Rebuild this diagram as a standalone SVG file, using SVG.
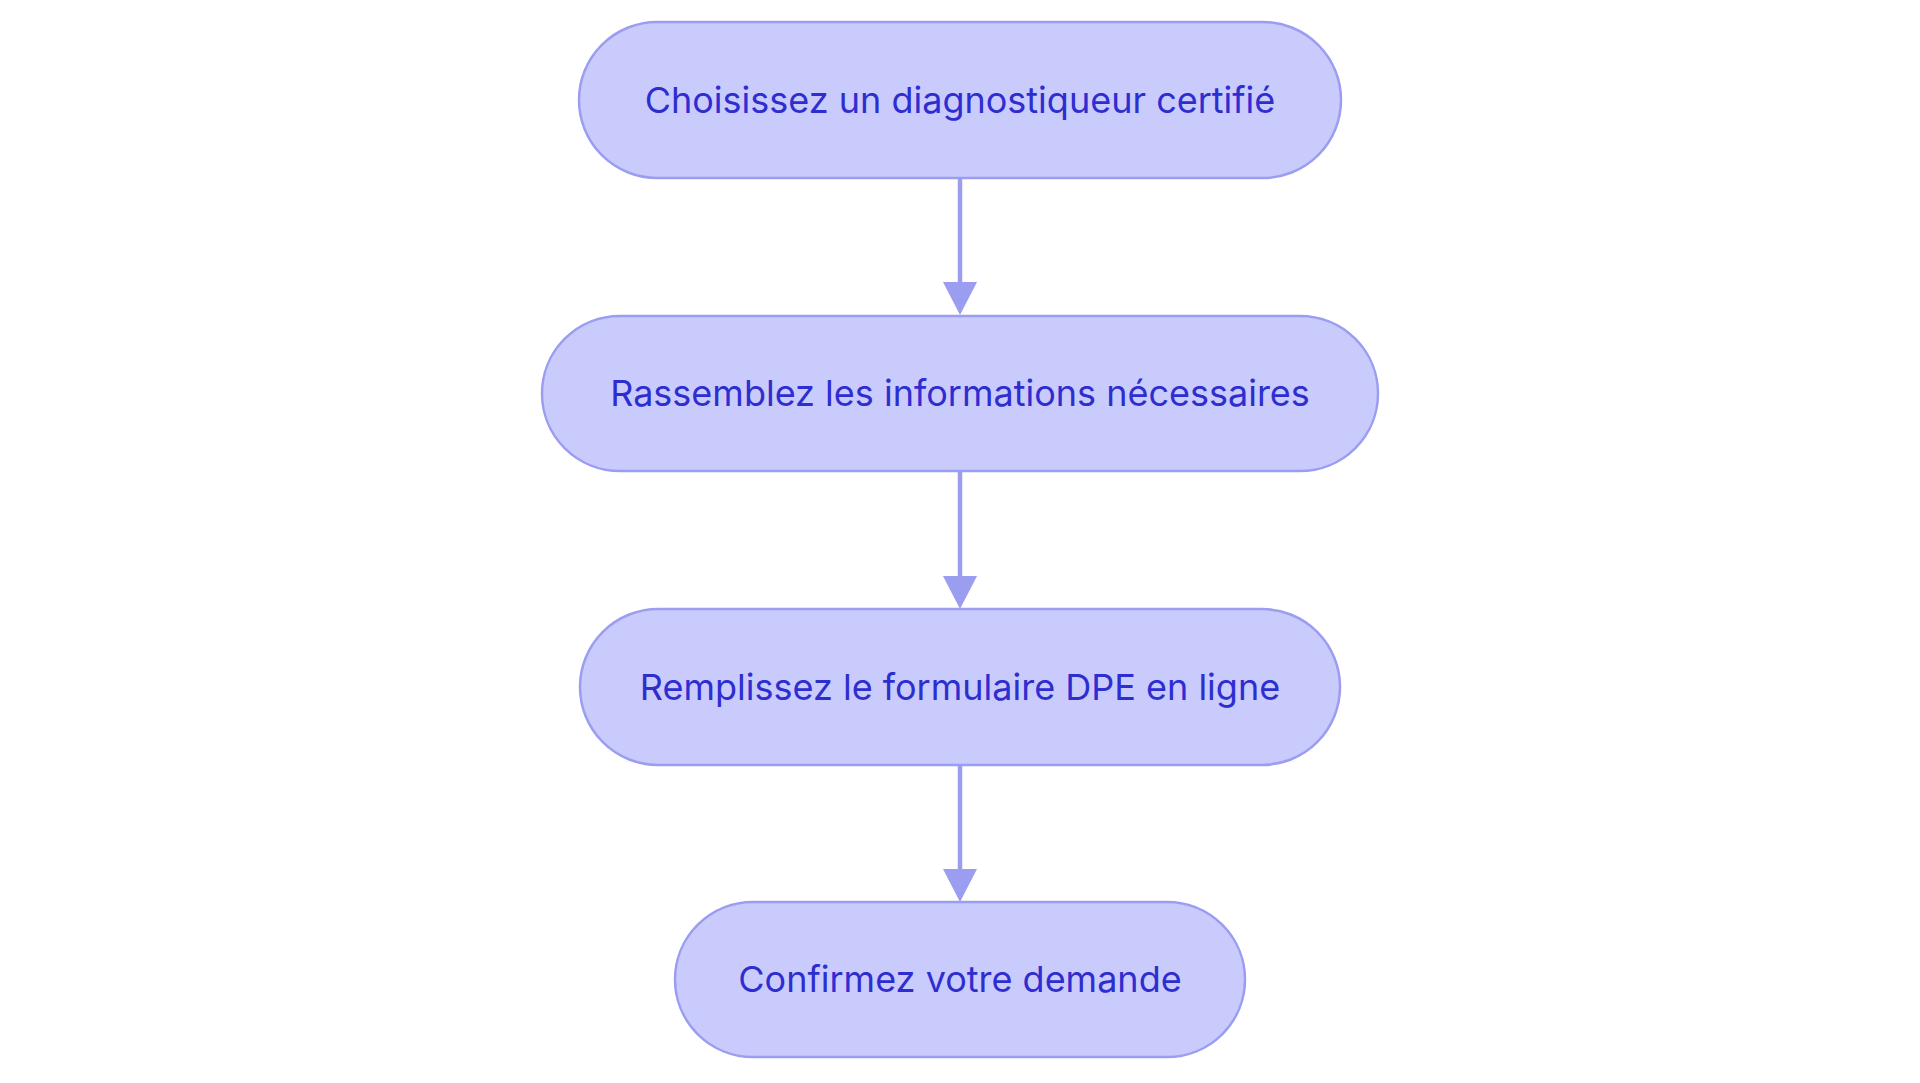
<svg xmlns="http://www.w3.org/2000/svg" width="1920" height="1083" viewBox="0 0 1920 1083">
<style>
.n rect{fill:#cacbfd;stroke:#9b9df0;stroke-width:2.5}
.n text{font-family:Inter,"Open Sans",sans-serif;font-size:36px;fill:#2e2ed0;text-anchor:middle;dominant-baseline:central}
.c line{stroke:#9b9df0;stroke-width:4.5}
</style>
<defs><marker id="a" viewBox="0 0 10 10" refX="10" refY="5" markerWidth="8" markerHeight="8" markerUnits="userSpaceOnUse" orient="auto"><path d="M0,0L10,5L0,10z" fill="#9b9df0"/></marker></defs>
<rect width="1920" height="1083" fill="#fff"/>
<g class="c">
<line x1="960" y1="178" x2="960" y2="282"/><path d="M943,282L977,282L960,315z" fill="#9b9df0"/>
<line x1="960" y1="471" x2="960" y2="576"/><path d="M943,576L977,576L960,609z" fill="#9b9df0"/>
<line x1="960" y1="765" x2="960" y2="869"/><path d="M943,869L977,869L960,902z" fill="#9b9df0"/>
</g>
<g id="n1" class="n"><rect x="579" y="22" width="762" height="156" rx="78"/><text x="960" y="100">Choisissez un diagnostiqueur certifié</text></g>
<g id="n2" class="n"><rect x="542" y="316" width="836" height="155" rx="78"/><text x="960" y="393">Rassemblez les informations nécessaires</text></g>
<g id="n3" class="n"><rect x="580" y="609" width="760" height="156" rx="78"/><text x="960" y="687">Remplissez le formulaire DPE en ligne</text></g>
<g id="n4" class="n"><rect x="675" y="902" width="570" height="155" rx="78"/><text x="960" y="979">Confirmez votre demande</text></g>
</svg>
